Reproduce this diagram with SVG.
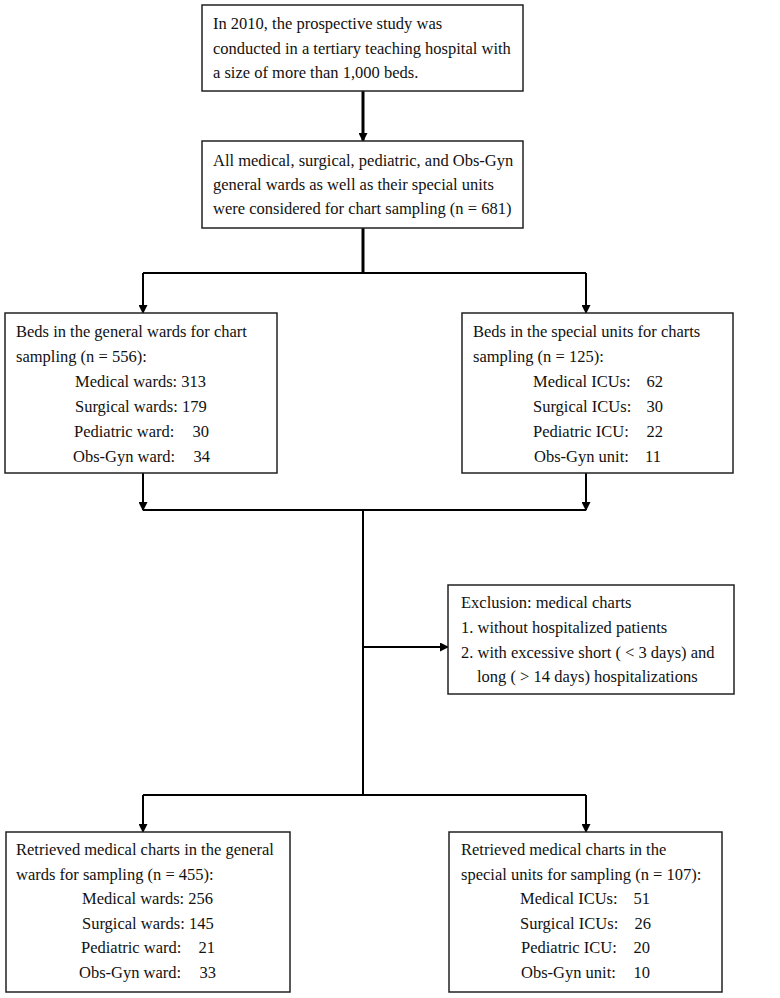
<svg xmlns="http://www.w3.org/2000/svg" width="780" height="998" viewBox="0 0 780 998">
<style>
.box{fill:#fff;stroke:#222;stroke-width:1.5}
.t{font-family:"Liberation Serif","Times New Roman",serif;font-size:16.5px;fill:#111}
.e{text-anchor:end}
.c{fill:none;stroke:#000;stroke-width:2}
.ct{fill:none;stroke:#000;stroke-width:3}
</style>
<defs>
<marker id="ah" markerUnits="userSpaceOnUse" markerWidth="9" markerHeight="9" refX="8" refY="4.5" orient="auto">
<path d="M0,0 L9,4.5 L0,9 z" fill="#000"/>
</marker>
</defs>
<rect width="780" height="998" fill="#fff"/>
<g id="connectors">
<path class="ct" d="M363 91 V141" marker-end="url(#ah)"/>
<path class="ct" d="M363 228 V273"/>
<path class="c" d="M143 273 H586"/>
<path class="c" d="M143 273 V313" marker-end="url(#ah)"/>
<path class="c" d="M586 273 V313" marker-end="url(#ah)"/>
<path class="c" d="M143 473 V510" marker-end="url(#ah)"/>
<path class="c" d="M586 473 V510" marker-end="url(#ah)"/>
<path class="c" d="M143 510 H586"/>
<path class="c" d="M363 510 V795"/>
<path class="c" d="M363 647 H448" marker-end="url(#ah)"/>
<path class="c" d="M143 795 H586"/>
<path class="c" d="M143 795 V832" marker-end="url(#ah)"/>
<path class="c" d="M586 795 V832" marker-end="url(#ah)"/>
</g>
<g id="study">
<rect class="box" x="202" y="5" width="321" height="86"/>
<text class="t" x="213" y="29">In 2010, the prospective study was</text>
<text class="t" x="213" y="54">conducted in a tertiary teaching hospital with</text>
<text class="t" x="213" y="78">a size of more than 1,000 beds.</text>
</g>
<g id="allwards">
<rect class="box" x="202" y="141" width="321" height="87"/>
<text class="t" x="213" y="166">All medical, surgical, pediatric, and Obs-Gyn</text>
<text class="t" x="213" y="190">general wards as well as their special units</text>
<text class="t" x="213" y="214">were considered for chart sampling (n = 681)</text>
</g>
<g id="bedsgeneral">
<rect class="box" x="5" y="313" width="272" height="160"/>
<text class="t" x="16" y="337">Beds in the general wards for chart</text>
<text class="t" x="16" y="362">sampling (n = 556):</text>
<text class="t" x="75" y="387">Medical wards: 313</text>
<text class="t" x="75" y="412">Surgical wards: 179</text>
<text class="t" x="74" y="437">Pediatric ward:</text><text class="t e" x="209" y="437">30</text>
<text class="t" x="73" y="462">Obs-Gyn ward:</text><text class="t e" x="210" y="462">34</text>
</g>
<g id="bedsspecial">
<rect class="box" x="462" y="313" width="271" height="160"/>
<text class="t" x="473" y="337">Beds in the special units for charts</text>
<text class="t" x="473" y="362">sampling (n = 125):</text>
<text class="t" x="533" y="387">Medical ICUs:</text><text class="t e" x="663" y="387">62</text>
<text class="t" x="533" y="412">Surgical ICUs:</text><text class="t e" x="663" y="412">30</text>
<text class="t" x="533" y="437">Pediatric ICU:</text><text class="t e" x="663" y="437">22</text>
<text class="t" x="534" y="462">Obs-Gyn unit:</text><text class="t e" x="661" y="462">11</text>
</g>
<g id="exclusion">
<rect class="box" x="448" y="585" width="286" height="109"/>
<text class="t" x="461" y="608">Exclusion: medical charts</text>
<text class="t" x="461" y="633">1. without hospitalized patients</text>
<text class="t" x="461" y="658">2. with excessive short ( &lt; 3 days) and</text>
<text class="t" x="477" y="682">long ( &gt; 14 days) hospitalizations</text>
</g>
<g id="retrievedgeneral">
<rect class="box" x="6" y="832" width="284" height="160"/>
<text class="t" x="16" y="855">Retrieved medical charts in the general</text>
<text class="t" x="16" y="880">wards for sampling (n = 455):</text>
<text class="t" x="82" y="904">Medical wards: 256</text>
<text class="t" x="82" y="929">Surgical wards: 145</text>
<text class="t" x="81" y="953">Pediatric ward:</text><text class="t e" x="215" y="953">21</text>
<text class="t" x="79" y="978">Obs-Gyn ward:</text><text class="t e" x="216" y="978">33</text>
</g>
<g id="retrievedspecial">
<rect class="box" x="449" y="832" width="273" height="160"/>
<text class="t" x="461" y="855">Retrieved medical charts in the</text>
<text class="t" x="461" y="880">special units for sampling (n = 107):</text>
<text class="t" x="520" y="904">Medical ICUs:</text><text class="t e" x="650" y="904">51</text>
<text class="t" x="520" y="929">Surgical ICUs:</text><text class="t e" x="651" y="929">26</text>
<text class="t" x="521" y="953">Pediatric ICU:</text><text class="t e" x="650" y="953">20</text>
<text class="t" x="521" y="978">Obs-Gyn unit:</text><text class="t e" x="650" y="978">10</text>
</g>
</svg>
